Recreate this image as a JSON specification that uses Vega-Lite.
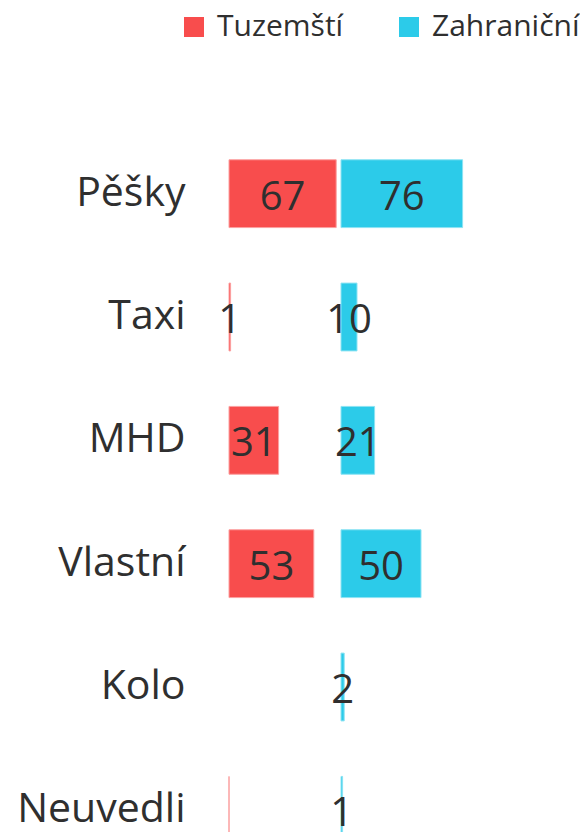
{
  "$schema": "https://vega.github.io/schema/vega-lite/v6.json",
  "padding": {"left": 16, "top": 12, "right": 0, "bottom": 0},
  "data": {"values": [
    {"mode": "Pěšky", "group": "Tuzemští", "value": 67},
    {"mode": "Pěšky", "group": "Zahraniční", "value": 76},
    {"mode": "Taxi", "group": "Tuzemští", "value": 1},
    {"mode": "Taxi", "group": "Zahraniční", "value": 10},
    {"mode": "MHD", "group": "Tuzemští", "value": 31},
    {"mode": "MHD", "group": "Zahraniční", "value": 21},
    {"mode": "Vlastní", "group": "Tuzemští", "value": 53},
    {"mode": "Vlastní", "group": "Zahraniční", "value": 50},
    {"mode": "Kolo", "group": "Zahraniční", "value": 2},
    {"mode": "Neuvedli", "group": "Tuzemští", "value": 0},
    {"mode": "Neuvedli", "group": "Zahraniční", "value": 1}
  ]},
  "facet": {"column": {"field": "group", "type": "nominal", "sort": ["Tuzemští", "Zahraniční"], "header": null}},
  "spacing": 0,
  "bounds": "flush",
  "resolve": {"scale": {"x": "shared"}},
  "spec": {
    "width": 112,
    "height": 740,
    "layer": [
      {
        "mark": {"type": "bar", "strokeWidth": 1},
        "encoding": {
          "y": {"field": "mode", "type": "nominal", "sort": ["Pěšky", "Taxi", "MHD", "Vlastní", "Kolo", "Neuvedli"],
                "scale": {"paddingInner": 0.45, "paddingOuter": 0.225},
                "axis": {"title": null, "domain": false, "ticks": false, "grid": false, "labelFontSize": 41, "labelFont": "Open Sans", "labelColor": "#2f2f2f", "labelPadding": 44, "minExtent": 209, "maxExtent": 209, "labelLimit": 400}},
          "x": {"field": "value", "type": "quantitative", "scale": {"domain": [0, 70]}, "axis": null},
          "color": {"field": "group", "type": "nominal",
                    "scale": {"domain": ["Tuzemští", "Zahraniční"], "range": ["#F84D4D", "#2CCBE9"]},
                    "legend": {"orient": "none", "legendX": -50, "legendY": -120, "direction": "horizontal", "title": null,
                               "symbolType": "square", "symbolSize": 400, "symbolStrokeWidth": 0, "labelFontSize": 30, "labelFont": "Open Sans",
                               "labelColor": "#2f2f2f", "labelOffset": 8, "columnPadding": 50, "labelLimit": 300}},
          "stroke": {"field": "group", "type": "nominal",
                     "scale": {"domain": ["Tuzemští", "Zahraniční"], "range": ["#FBA0A0", "#8CE3F3"]}, "legend": null}
        }
      },
      {
        "transform": [{"filter": "datum.value > 0"}],
        "mark": {"type": "text", "fontSize": 40, "font": "Open Sans", "color": "#2f2f2f", "baseline": "middle", "align": "center", "dy": 4},
        "encoding": {
          "y": {"field": "mode", "type": "nominal", "sort": ["Pěšky", "Taxi", "MHD", "Vlastní", "Kolo", "Neuvedli"]},
          "x": {"field": "value", "type": "quantitative", "stack": "zero", "bandPosition": 0.5},
          "text": {"field": "value", "type": "quantitative"}
        }
      }
    ]
  },
  "config": {"view": {"stroke": null}, "background": "white"}
}
